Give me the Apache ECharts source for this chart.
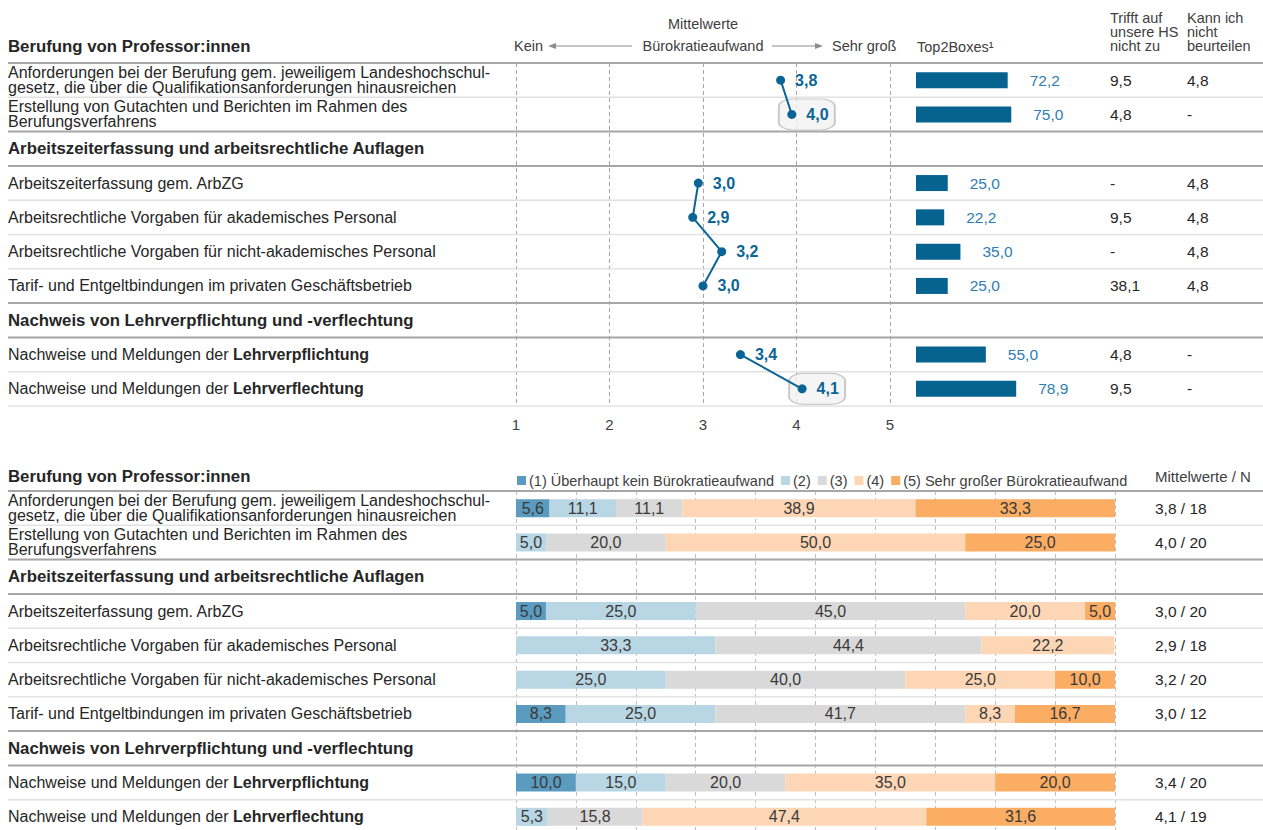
<!DOCTYPE html>
<html>
<head>
<meta charset="utf-8">
<script src="https://cdn.jsdelivr.net/npm/echarts@6/dist/echarts.min.js"></script>
<style>
html, body { margin: 0; background: #fff; }
#chart { width: 1263px; height: 830px; }
</style>
</head>
<body>
<div id="chart"></div>
<script>
// sections and their items (rows)
const sections = [
    'Berufung von Professor:innen',
    'Arbeitszeiterfassung und arbeitsrechtliche Auflagen',
    'Nachweis von Lehrverpflichtung und -verflechtung'
]
const items = [
    'Anforderungen bei der Berufung gem. jeweiligem Landeshochschul-\ngesetz, die über die Qualifikationsanforderungen hinausreichen',
    'Erstellung von Gutachten und Berichten im Rahmen des\nBerufungsverfahrens',
    'Arbeitszeiterfassung gem. ArbZG',
    'Arbeitsrechtliche Vorgaben für akademisches Personal',
    'Arbeitsrechtliche Vorgaben für nicht-akademisches Personal',
    'Tarif- und Entgeltbindungen im privaten Geschäftsbetrieb',
    'Nachweise und Meldungen der {b|Lehrverpflichtung}',
    'Nachweise und Meldungen der {b|Lehrverflechtung}'
]
const itemSection = [0, 0, 1, 1, 1, 1, 2, 2]

// Mittelwerte: exact position of the point and the printed value
const meanPos = [3.83, 3.95, 2.95, 2.89, 3.2, 3.0, 3.4, 4.06]
const mean = [3.8, 4.0, 3.0, 2.9, 3.2, 3.0, 3.4, 4.1]
const highlight = [false, true, false, false, false, false, false, true]
const top2 = [72.2, 75.0, 25.0, 22.2, 35.0, 25.0, 55.0, 78.9]
const notApplicable = ['9,5', '4,8', '-', '9,5', '-', '38,1', '4,8', '9,5']
const cannotJudge = ['4,8', '-', '4,8', '4,8', '4,8', '4,8', '-', '-']
const nResp = [18, 20, 20, 18, 20, 12, 20, 19]
const xTicks = [1, 5]

// distribution of answers (%)
const levels = ['(1) Überhaupt kein Bürokratieaufwand', '(2)', '(3)', '(4)', '(5) Sehr großer Bürokratieaufwand']
const level1 = [5.6, 0, 5.0, 0, 0, 8.3, 10.0, 0]
const level2 = [11.1, 5.0, 25.0, 33.3, 25.0, 25.0, 15.0, 5.3]
const level3 = [11.1, 20.0, 45.0, 44.4, 40.0, 41.7, 20.0, 15.8]
const level4 = [38.9, 50.0, 20.0, 22.2, 25.0, 8.3, 35.0, 47.4]
const level5 = [33.3, 25.0, 5.0, 0, 10.0, 16.7, 20.0, 31.6]
const levelColors = ['#5b9bbf', '#b8d6e3', '#d9d9d9', '#fdd6b5', '#fbad63']

const FONT = "'Liberation Sans', Arial, sans-serif"
const TXT = '#262626'
const BLUE = '#0b6496'

const fmt = v => v.toFixed(1).replace('.', ',')

// rows of the table: section headers (except first) + items
let rows = []
for (let i = 0; i < items.length; i++) {
    if (i > 0 && itemSection[i] != itemSection[i - 1]) {
        rows.push({header: sections[itemSection[i]], item: -1})
    }
    rows.push({label: items[i], item: i})
}
const rowIndex = i => rows.findIndex(r => r.item == i)
const cats = rows.map((r, k) => 'r' + k)
const perRow = arr => rows.map(r => r.item >= 0 ? arr[r.item] : '-')

const rowLabel = {
    show: true,
    interval: 0,
    align: 'left',
    margin: 508,
    fontFamily: FONT,
    fontSize: 16,
    lineHeight: 15,
    color: TXT,
    formatter: (v, idx) => rows[idx].item < 0 ? '{h|' + rows[idx].header + '}' : rows[idx].label,
    rich: {
        h: {fontFamily: FONT, fontSize: 16.8, fontWeight: 'bold', color: TXT},
        b: {fontFamily: FONT, fontSize: 16, fontWeight: 'bold', color: TXT}
    }
}
const colLabel = (margin, values) => ({
    show: true,
    interval: 0,
    align: 'left',
    margin: margin,
    fontFamily: FONT,
    fontSize: 15.5,
    color: TXT,
    formatter: (v, idx) => rows[idx].item < 0 ? '' : values[rows[idx].item]
})
const hidden = {axisLine: {show: false}, axisTick: {show: false}, splitLine: {show: false}}

let series = []
// Mittelwerte lines, one per section
for (let s = 0; s < sections.length; s++) {
    let data = []
    items.forEach((t, i) => { if (itemSection[i] == s) data.push([meanPos[i], rowIndex(i), i]) })
    series.push({
        type: 'line', xAxisIndex: 0, yAxisIndex: 0, z: 5,
        encode: {x: 0, y: 1},
        data: data,
        symbol: 'circle', symbolSize: 9,
        lineStyle: {color: BLUE, width: 2},
        itemStyle: {color: BLUE},
        label: {
            show: true, position: 'right', distance: 10,
            fontFamily: FONT, fontSize: 16, fontWeight: 'bold', color: BLUE,
            formatter: p => fmt(mean[p.value[2]])
        },
        animation: false
    })
}
// highlight boxes behind the highest values
let hlData = []
items.forEach((t, i) => { if (highlight[i]) hlData.push([meanPos[i], rowIndex(i)]) })
series.push({
    type: 'scatter', xAxisIndex: 0, yAxisIndex: 0, z: 2,
    data: hlData,
    symbol: 'roundRect', symbolSize: [56, 31], symbolOffset: [15, 0],
    itemStyle: {color: '#f2f2f2', borderColor: '#bdbdbd', borderWidth: 1.5},
    silent: true
})
// Top2Boxes
series.push({
    type: 'bar', xAxisIndex: 1, yAxisIndex: 1,
    data: perRow(top2),
    barWidth: 16,
    itemStyle: {color: '#06628f'},
    label: {
        show: true, position: 'right', distance: 22,
        fontFamily: FONT, fontSize: 15.5, color: '#2e7db3',
        formatter: p => fmt(p.value)
    }
})
// distribution
const shares = [level1, level2, level3, level4, level5]
shares.forEach((arr, k) => {
    series.push({
        name: levels[k],
        type: 'bar', xAxisIndex: 2, yAxisIndex: 4, stack: 'dist',
        data: perRow(arr),
        barWidth: 18,
        itemStyle: {color: levelColors[k]},
        label: {
            show: true, position: 'inside',
            fontFamily: FONT, fontSize: 16, color: '#3a3a3a',
            formatter: p => p.value > 0 ? fmt(p.value) : ''
        }
    })
})

var chart = echarts.init(document.getElementById('chart'), null, {renderer: 'svg'})

var option = {
    animation: false,
    backgroundColor: '#fff',
    textStyle: {fontFamily: FONT},
    grid: [
        {left: 516, width: 374, top: 63, height: 343, outerBoundsMode: 'none'},
        {left: 916, width: 127, top: 63, height: 343, outerBoundsMode: 'none'},
        {left: 516, width: 599, top: 491, height: 343, outerBoundsMode: 'none'}
    ],
    legend: {
        data: levels,
        left: 512, top: 468,
        icon: 'rect', itemWidth: 9, itemHeight: 9, itemGap: 7,
        textStyle: {fontFamily: FONT, fontSize: 14.5, color: '#404040', padding: [0, 0, 0, -2]},
        selectedMode: false
    },
    xAxis: [
        {
            gridIndex: 0, type: 'value', min: xTicks[0], max: xTicks[1], interval: 1,
            axisLine: {show: false}, axisTick: {show: false},
            axisLabel: {fontFamily: FONT, fontSize: 15, color: '#404040', margin: 11},
            splitLine: {lineStyle: {color: '#a6a6a6', type: [4, 3], width: 1}}
        },
        {gridIndex: 1, type: 'value', min: 0, max: 100, show: false},
        {
            gridIndex: 2, type: 'value', min: 0, max: 100, interval: 10,
            axisLine: {show: false}, axisTick: {show: false}, axisLabel: {show: false},
            splitLine: {lineStyle: {color: '#bfbfbf', type: [4, 3], width: 1}}
        }
    ],
    yAxis: [
        Object.assign({gridIndex: 0, type: 'category', data: cats, inverse: true, axisLabel: rowLabel}, hidden),
        {gridIndex: 1, type: 'category', data: cats, inverse: true, show: false},
        Object.assign({gridIndex: 1, type: 'category', data: cats, inverse: true, position: 'right', axisLabel: colLabel(67, notApplicable)}, hidden),
        Object.assign({gridIndex: 1, type: 'category', data: cats, inverse: true, position: 'right', axisLabel: colLabel(144, cannotJudge)}, hidden),
        Object.assign({gridIndex: 2, type: 'category', data: cats, inverse: true, axisLabel: rowLabel}, hidden),
        Object.assign({gridIndex: 2, type: 'category', data: cats, inverse: true, position: 'right',
            axisLabel: colLabel(40, mean.map((m, i) => fmt(m) + ' / ' + nResp[i]))}, hidden)
    ],
    series: series
}
chart.setOption(option)

// header texts, arrows and row separators
const txt = (x, y, text, extra) => ({
    type: 'text', x: x, y: y, silent: true,
    style: Object.assign({text: text, fontFamily: FONT, fontSize: 14.5, fill: '#404040', verticalAlign: 'middle', align: 'left'}, extra || {})
})
let g = []
g.push(txt(8, 46, sections[0], {fontSize: 16.8, fontWeight: 'bold', fill: TXT}))
g.push(txt(8, 476, sections[0], {fontSize: 16.8, fontWeight: 'bold', fill: TXT}))
g.push(txt(703, 24, 'Mittelwerte', {align: 'center'}))
g.push(txt(703, 46, 'Bürokratieaufwand', {align: 'center'}))
g.push(txt(514, 46, 'Kein'))
g.push(txt(832, 46, 'Sehr groß'))
g.push({type: 'line', shape: {x1: 550, y1: 46, x2: 632, y2: 46}, style: {stroke: '#8c8c8c', lineWidth: 1}})
g.push({type: 'polygon', shape: {points: [[548, 46], [556, 43], [556, 49]]}, style: {fill: '#8c8c8c'}})
g.push({type: 'line', shape: {x1: 772, y1: 46, x2: 820, y2: 46}, style: {stroke: '#8c8c8c', lineWidth: 1}})
g.push({type: 'polygon', shape: {points: [[823, 46], [815, 43], [815, 49]]}, style: {fill: '#8c8c8c'}})
g.push(txt(917, 47, 'Top2Boxes¹'))
g.push(txt(1110, 32, 'Trifft auf\nunsere HS\nnicht zu', {lineHeight: 14}))
g.push(txt(1187, 32, 'Kann ich\nnicht\nbeurteilen', {lineHeight: 14}))
g.push(txt(1155, 476, 'Mittelwerte / N', {fontSize: 15}))

// line below a row is dark at the end of a section or below a header
const darkBelow = rows.map((r, k) => r.item < 0 || k == rows.length - 1 ? true : rows[k + 1].item < 0)
darkBelow[rows.length - 1] = false
;[0, 4].forEach(axis => {
    const y0 = chart.convertToPixel({yAxisIndex: axis}, 0)
    const band = chart.convertToPixel({yAxisIndex: axis}, 1) - y0
    const line = (y, dark) => ({
        type: 'line', silent: true, z: 0,
        shape: {x1: 8, y1: y, x2: 1263, y2: y},
        style: {stroke: dark ? '#a6a6a6' : '#e2e2e2', lineWidth: dark ? 2 : 1.5}
    })
    g.push(line(y0 - band / 2, true))
    rows.forEach((r, k) => g.push(line(y0 + band * k + band / 2, darkBelow[k])))
})
chart.setOption({graphic: {elements: g}})
</script>
</body>
</html>
